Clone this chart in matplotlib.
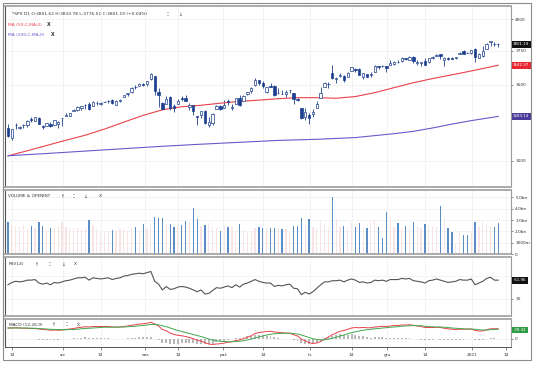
import matplotlib.pyplot as plt
import numpy as np
from matplotlib.patches import Rectangle
from matplotlib.ticker import FixedLocator, NullLocator, FixedFormatter

# daily SPX candles, 13 Jul 2020 .. 12 Jan 2021 (one entry per trading day)
opens = [3205, 3141, 3225, 3209, 3224, 3224, 3268, 3254, 3272, 3219,
         3219, 3235, 3228, 3231, 3270, 3288, 3289, 3318, 3324, 3341,
         3357, 3370, 3356, 3372, 3368, 3381, 3388, 3392, 3360, 3386,
         3418, 3436, 3449, 3486, 3494, 3509, 3507, 3543, 3565, 3453,
         3371, 3369, 3412, 3352, 3364, 3407, 3411, 3346, 3357, 3285,
         3295, 3321, 3226, 3237, 3333, 3350, 3342, 3385, 3339, 3368,
         3408, 3385, 3434, 3459, 3500, 3534, 3515, 3453, 3493, 3493,
         3440, 3439, 3439, 3464, 3441, 3404, 3342, 3278, 3294, 3296,
         3337, 3407, 3485, 3508, 3583, 3544, 3563, 3562, 3553, 3601,
         3611, 3612, 3559, 3580, 3567, 3594, 3635, 3639, 3634, 3645,
         3653, 3669, 3670, 3694, 3684, 3706, 3659, 3656, 3675, 3667,
         3697, 3714, 3723, 3684, 3698, 3694, 3694, 3723, 3751, 3736,
         3734, 3764, 3698, 3713, 3764, 3815, 3803, 3801.62]
highs = [3235, 3200, 3238, 3220, 3233, 3258, 3278, 3280, 3280, 3227,
         3241, 3243, 3262, 3250, 3272, 3303, 3307, 3331, 3352, 3352,
         3364, 3381, 3387, 3387, 3378, 3388, 3395, 3399, 3391, 3400,
         3432, 3444, 3482, 3501, 3510, 3514, 3529, 3588, 3565, 3479,
         3379, 3424, 3425, 3368, 3403, 3419, 3429, 3376, 3363, 3285,
         3320, 3323, 3279, 3307, 3361, 3358, 3394, 3398, 3370, 3411,
         3432, 3426, 3447, 3482, 3550, 3534, 3528, 3487, 3516, 3502,
         3476, 3465, 3461, 3466, 3441, 3409, 3342, 3342, 3305, 3331,
         3389, 3486, 3520, 3521, 3646, 3558, 3582, 3569, 3593, 3628,
         3624, 3619, 3585, 3581, 3589, 3643, 3636, 3644, 3637, 3679,
         3670, 3682, 3700, 3698, 3709, 3712, 3678, 3666, 3698, 3695,
         3712, 3726, 3726, 3703, 3703, 3703, 3703, 3740, 3756, 3744,
         3760, 3770, 3737, 3784, 3811, 3827, 3818, 3810.78]
lows = [3149, 3128, 3200, 3199, 3205, 3216, 3248, 3252, 3230, 3200,
        3218, 3216, 3228, 3205, 3221, 3288, 3285, 3318, 3316, 3329,
        3335, 3326, 3356, 3362, 3362, 3379, 3371, 3369, 3360, 3380,
        3414, 3424, 3444, 3469, 3490, 3494, 3494, 3536, 3428, 3349,
        3330, 3367, 3329, 3311, 3364, 3390, 3384, 3328, 3293, 3229,
        3270, 3232, 3210, 3228, 3333, 3327, 3340, 3362, 3324, 3368,
        3354, 3385, 3428, 3445, 3495, 3500, 3480, 3441, 3483, 3420,
        3439, 3433, 3415, 3440, 3365, 3388, 3268, 3260, 3233, 3280,
        3337, 3405, 3485, 3476, 3543, 3512, 3557, 3519, 3553, 3601,
        3595, 3567, 3544, 3556, 3553, 3594, 3617, 3630, 3594, 3645,
        3645, 3661, 3669, 3683, 3678, 3660, 3646, 3640, 3645, 3660,
        3689, 3713, 3685, 3636, 3678, 3690, 3690, 3723, 3723, 3730,
        3726, 3663, 3695, 3705, 3764, 3784, 3789, 3776.51]
closes = [3155, 3198, 3227, 3216, 3225, 3252, 3257, 3276, 3236, 3216,
          3239, 3218, 3258, 3246, 3271, 3295, 3307, 3328, 3349, 3351,
          3360, 3334, 3380, 3373, 3373, 3382, 3390, 3375, 3386, 3397,
          3431, 3444, 3479, 3485, 3508, 3500, 3527, 3581, 3455, 3427,
          3332, 3399, 3339, 3341, 3384, 3401, 3385, 3357, 3319, 3281,
          3316, 3237, 3247, 3298, 3352, 3335, 3363, 3381, 3348, 3409,
          3361, 3419, 3447, 3477, 3534, 3512, 3489, 3483, 3484, 3427,
          3443, 3436, 3453, 3465, 3401, 3391, 3271, 3310, 3270, 3310,
          3369, 3443, 3510, 3509, 3551, 3546, 3573, 3537, 3585, 3627,
          3610, 3568, 3582, 3558, 3578, 3635, 3630, 3638, 3622, 3662,
          3669, 3667, 3699, 3692, 3702, 3673, 3668, 3663, 3647, 3695,
          3701, 3722, 3709, 3695, 3687, 3690, 3703, 3735, 3727, 3732,
          3756, 3701, 3727, 3748, 3804, 3825, 3800, 3801.19]

# volume in billions
volume = [2.8, 2.6, 2.5, 2.4, 2.6, 2.2, 2.5, 2.3, 2.8, 2.5,
          2.1, 2.3, 2.3, 2.4, 2.8, 2.4, 2.3, 2.3, 2.3, 2.1,
          2.3, 3.0, 2.6, 2.2, 1.9, 1.9, 2.0, 2.1, 2.0, 2.2,
          2.3, 2.0, 2.3, 2.4, 2.1, 2.65, 2.3, 2.7, 3.3, 3.2,
          3.2, 2.6, 2.65, 2.4, 2.5, 2.55, 2.9, 2.8, 4.1, 3.1,
          2.5, 2.55, 2.7, 2.4, 2.3, 2.0, 2.6, 2.4, 2.4, 2.0,
          2.65, 2.2, 1.9, 1.9, 2.3, 2.4, 2.3, 2.3, 2.3, 2.3,
          2.3, 2.2, 2.2, 1.9, 2.5, 2.5, 3.2, 2.6, 3.1, 2.4,
          2.3, 3.0, 2.6, 2.3, 5.0, 3.1, 2.4, 2.5, 2.3, 2.8,
          2.4, 2.75, 2.4, 2.3, 2.8, 3.0, 2.4, 1.4, 3.7, 2.9,
          2.4, 2.75, 2.3, 2.5, 2.2, 2.8, 2.5, 2.3, 2.65, 2.6,
          2.5, 2.4, 4.25, 3.1, 2.3, 1.95, 1.0, 2.0, 1.7, 1.7,
          2.0, 2.8, 2.4, 2.8, 2.6, 2.5, 2.4, 2.75]

rsi = [54, 58, 60, 59, 60, 62, 62, 63, 57, 55,
       57, 54, 58, 57, 59, 61, 62, 64, 66, 66,
       67, 62, 66, 65, 64, 65, 66, 63, 65, 66,
       69, 70, 72, 73, 74, 73, 75, 77, 60, 55,
       45, 51, 46, 47, 50, 51, 50, 48, 45, 42,
       45, 38, 39, 44, 49, 48, 50, 52, 49, 54,
       50, 55, 57, 60, 63, 60, 58, 57, 57, 51,
       53, 52, 54, 55, 48, 47, 37, 41, 38, 42,
       48, 54, 59, 59, 61, 61, 62, 59, 62, 64,
       62, 58, 59, 57, 58, 62, 61, 62, 60, 63,
       63, 63, 65, 64, 65, 61, 60, 59, 57, 61,
       62, 64, 62, 60, 58, 59, 60, 63, 62, 62,
       64, 54, 57, 60, 65, 67, 62, 62]

macd = [44, 44, 45, 44, 43, 43, 42, 42, 40, 38,
        37, 35, 36, 35, 36, 38, 40, 42, 45, 47,
        49, 48, 50, 50, 50, 50, 50, 48, 48, 48,
        50, 52, 55, 57, 60, 61, 63, 67, 60, 52,
        38, 33, 24, 18, 15, 13, 10, 6, 1, -5,
        -8, -15, -20, -22, -20, -19, -16, -13, -11, -6,
        -4, 1, 7, 13, 22, 26, 28, 30, 31, 28,
        27, 25, 24, 23, 17, 12, -1, -7, -15, -18,
        -16, -10, 0, 8, 17, 24, 31, 34, 39, 44,
        46, 45, 46, 45, 45, 48, 49, 51, 50, 52,
        54, 54, 56, 56, 57, 55, 52, 50, 46, 46,
        46, 47, 46, 43, 41, 39, 38, 39, 39, 39,
        40, 34, 32, 32, 37, 41, 41, 41]
signal = [44, 44, 44, 44, 44, 44, 43, 43, 42, 41,
          40, 39, 38, 38, 37, 37, 38, 38, 39, 41,
          42, 43, 44, 45, 46, 47, 47, 47, 47, 48,
          48, 49, 50, 51, 53, 54, 56, 58, 58, 57,
          53, 49, 44, 39, 34, 30, 26, 22, 18, 14,
          10, 5, 0, -4, -7, -9, -10, -11, -11, -10,
          -9, -7, -4, 0, 4, 8, 12, 16, 19, 21,
          22, 23, 23, 23, 22, 20, 16, 11, 6, 1,
          -2, -4, -3, -1, 3, 7, 12, 16, 21, 25,
          29, 32, 35, 37, 39, 41, 42, 44, 45, 47,
          48, 49, 51, 52, 53, 54, 53, 53, 51, 50,
          49, 48, 48, 47, 46, 44, 43, 42, 41, 40,
          40, 39, 37, 36, 36, 37, 38, 39]

# moving averages (trading-day index, value)
ma50_idx = [0, 5, 10, 15, 20, 25, 30, 35, 40, 45, 50, 55, 60, 65, 70,
            75, 80, 85, 90, 95, 100, 105, 110, 115, 120, 125, 127]
ma50 = [3031, 3062, 3095, 3128, 3160, 3200, 3245, 3290, 3327, 3348, 3358,
        3372, 3385, 3393, 3403, 3410, 3410, 3406, 3418, 3445, 3480, 3515,
        3545, 3572, 3600, 3630, 3642]
ma200_idx = [0, 10, 20, 30, 40, 50, 60, 70, 80, 90, 100, 105, 110, 115,
             120, 125, 127]
ma200 = [3031, 3045, 3060, 3075, 3090, 3103, 3115, 3127, 3134, 3145, 3170,
         3185, 3207, 3232, 3255, 3275, 3283]

tick_pos = [1, 14.3, 24, 35.6, 44, 55.8, 66, 78.3, 89, 98.3, 108, 120.3, 129]
tick_labels = ["14", "sie", "14", "wrz", "14", "paź", "14", "lis", "14",
               "gru", "14", "2021", "14"]

W, H = 536, 368


def rect(x0, y0, x1, y1):
    return [x0 / W, 1 - y1 / H, (x1 - x0) / W, (y1 - y0) / H]


navy = "#1d3f8f"
red = "#e8424c"
purple = "#6a5acd"
green = "#3fa94f"

fig = plt.figure(figsize=(5.36, 3.68), dpi=100)
ax_p = fig.add_axes(rect(5, 6, 511, 187))
ax_v = fig.add_axes(rect(5, 190, 511, 254), sharex=ax_p)
ax_r = fig.add_axes(rect(5, 257, 511, 316), sharex=ax_p)
ax_m = fig.add_axes(rect(5, 319, 511, 347), sharex=ax_p)

o = np.array(opens)
h = np.array(highs)
l = np.array(lows)
c = np.array(closes)
x = np.arange(len(c))
up = c >= o

# price panel
ax_p.vlines(x, l, h, color=navy, lw=0.6, zorder=2)
ax_p.bar(x, np.maximum(np.abs(c - o), 1.5), bottom=np.minimum(o, c), width=0.62,
         color=np.where(up, "white", navy), edgecolor=navy, linewidth=0.5, zorder=3)
ax_p.plot(ma50_idx, ma50, color=red, lw=0.8, zorder=2)
ax_p.plot(ma200_idx, ma200, color=purple, lw=0.8, zorder=2)
ax_p.set_yscale("log")
ax_p.set_ylim(2845, 4107)
ax_p.yaxis.set_major_locator(FixedLocator([3000, 3500, 3750, 4000]))
ax_p.yaxis.set_major_formatter(FixedFormatter(["3000", "3500", "3750", "4000"]))
ax_p.yaxis.set_minor_locator(NullLocator())

# volume panel: blue for closes below the open, faint pink otherwise
ax_v.bar(x, volume, width=0.32, color=np.where(up, "#f8e4e4", "#5b8ec6"))
ax_v.set_ylim(0, 5.66)
ax_v.set_yticks([0, 1, 2, 3, 4, 5], ["0", "1000m", "2.0bn", "3.0bn", "4.0bn", "5.0bn"])

# rsi panel
ax_r.plot(x, rsi, color="#555555", lw=0.8)
ax_r.set_ylim(0, 102)
ax_r.set_yticks([30], ["30"])
ax_r.axhline(70, color="#eeeeee", lw=0.5, zorder=0)

# macd panel
hist = np.array(macd) - np.array(signal)
ax_m.bar(x, hist, width=0.5, color="#b8b8b8")
ax_m.plot(x, macd, color=red, lw=0.7)
ax_m.plot(x, signal, color=green, lw=0.7)
ax_m.set_ylim(-32, 80)
ax_m.set_yticks([0], ["0"])

ax_m.set_xlim(-0.78, 130.3)
ax_m.set_xticks(tick_pos, tick_labels)

for ax in (ax_p, ax_v, ax_r, ax_m):
    ax.yaxis.tick_right()
    ax.tick_params(axis="y", labelsize=3.1, length=1.5, width=0.4, pad=1.5,
                   colors="#333333")
    ax.grid(True, color="#efefef", lw=0.5)
    ax.set_axisbelow(True)
    for side in ("top", "bottom"):
        ax.spines[side].set_color("#a5a5a5")
        ax.spines[side].set_linewidth(1.3)
    ax.spines["right"].set_color("#9a9a9a")
    ax.spines["right"].set_linewidth(0.8)
    ax.spines["left"].set_color("#555555")
    ax.spines["left"].set_linewidth(0.8)
    if ax is not ax_m:
        ax.tick_params(axis="x", bottom=False, labelbottom=False)
ax_m.tick_params(axis="x", labelsize=3.1, length=2, width=0.4, pad=2.5,
                 colors="#333333")
ax_m.spines["bottom"].set_color("#555555")
ax_m.spines["bottom"].set_linewidth(0.7)


def value_box(ax, y, text, fc):
    ax.text(1.004, y, text, transform=ax.get_yaxis_transform(), fontsize=2.9,
            color="white", va="center", ha="left", clip_on=False, zorder=6,
            bbox=dict(boxstyle="square,pad=0.35", fc=fc, ec="none"))


value_box(ax_p, 3801.19, "3801.19", "#111111")
value_box(ax_p, ma50[-1], "3642.37", "#e8262e")
value_box(ax_p, ma200[-1], "3283.14", "#4b3c9a")
value_box(ax_r, rsi[-1], " 61.96 ", "#111111")
value_box(ax_m, signal[-1] - 3, " 39.32 ", "#2e9d46")


def label(px, py, s, color="#333333", size=3.4, weight="normal"):
    fig.text(px / W, 1 - py / H, s, color=color, fontsize=size,
             va="center", ha="left", fontweight=weight)


label(12, 14, "*SPX D1 O:3801.62 H:3810.78 L:3776.51 C:3801.19 (+0.04%)", size=3.2)
label(166, 14, "⁚⁚")
label(178, 14, "↓")
label(8, 25, "MA (50,C,MA,0)", color=red, size=3.2)
label(47, 25, "X", weight="bold", size=3.4)
label(8, 35, "MA (200,C,MA,0)", color=purple, size=3.2)
label(51, 35, "X", weight="bold", size=3.4)

label(8, 196, "VOLUME & OPENINT", size=3.1)
label(60, 196, "↑", size=3.4)
label(72, 196, "⁚⁚", size=3.4)
label(83, 196, "↓", size=3.4)
label(99, 196, "X", size=3.1)

label(9, 264, "RSI(14)", size=3.1)
label(34, 264, "↑", size=3.4)
label(48, 264, "⁚⁚", size=3.4)
label(61, 264, "↓", size=3.4)
label(74, 264, "X", size=3.1)

label(9, 325, "MACD (12,26,9)", size=3.1)
label(51, 325, "↑", size=3.4)
label(65, 325, "⁚⁚", size=3.4)
label(77, 325, "X", size=3.1)

fig.add_artist(Rectangle((3 / W, 1 - 360 / H), 528 / W, 357 / H,
                         transform=fig.transFigure, fill=False,
                         ec="#8c8c8c", lw=0.8))

fig.savefig("out.png", dpi=100)
